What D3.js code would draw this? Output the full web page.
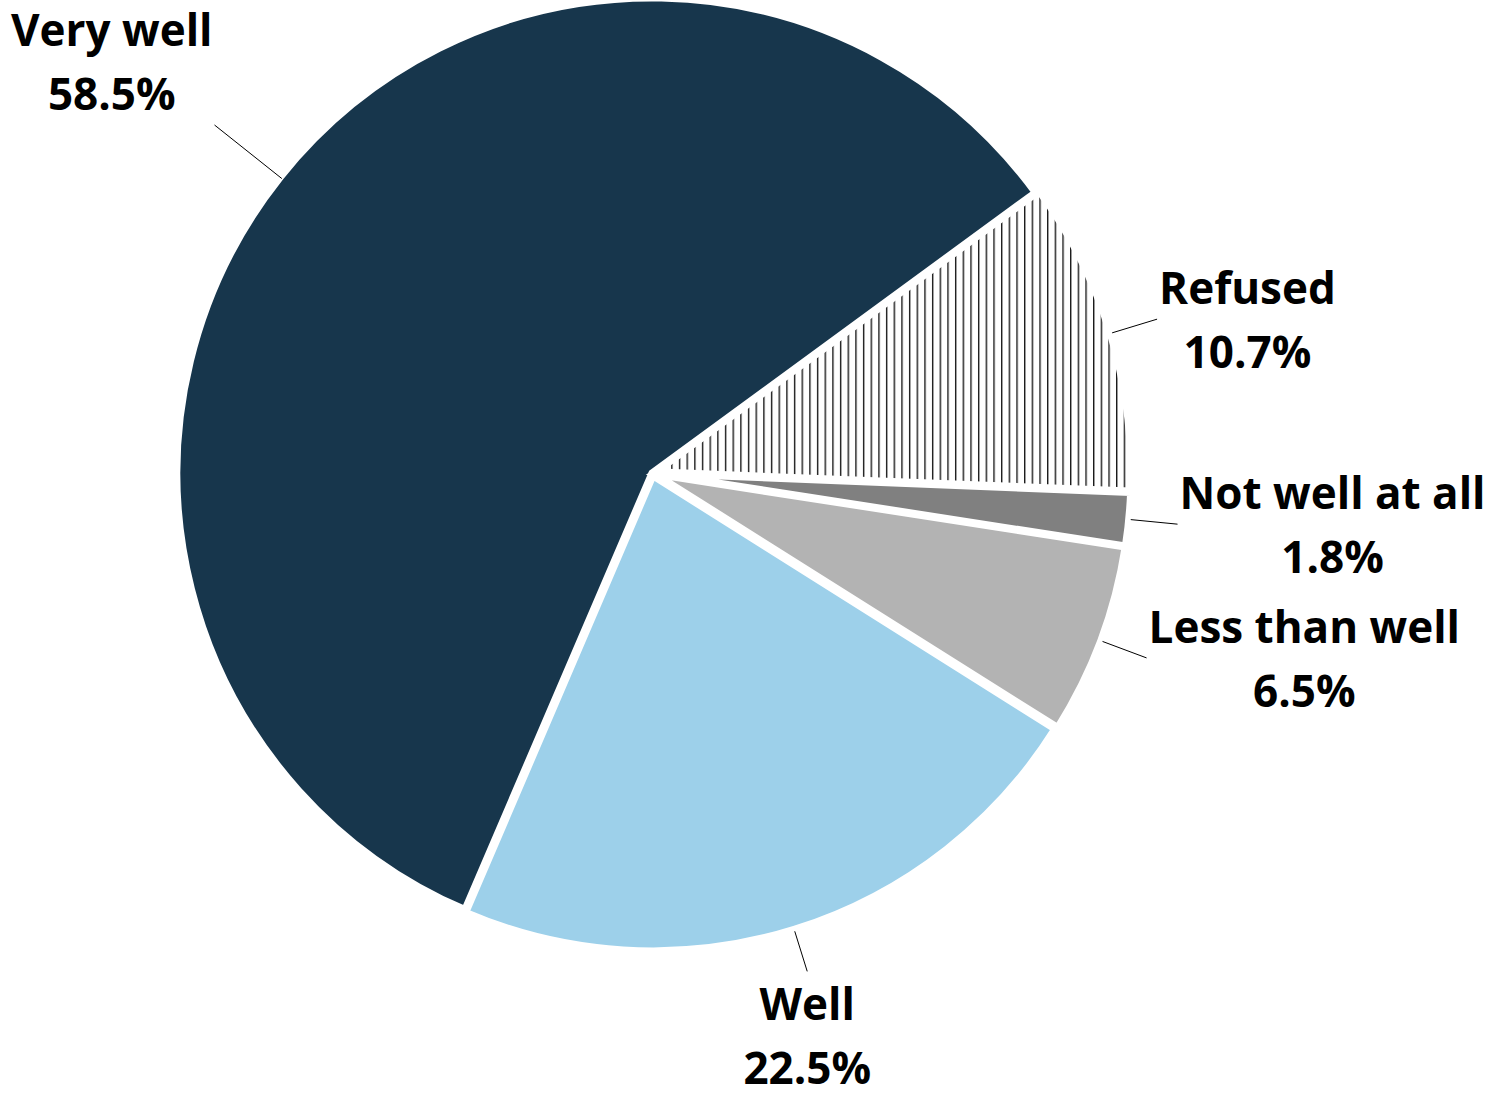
<!DOCTYPE html>
<html>
<head>
<meta charset="utf-8">
<script src="https://cdn.jsdelivr.net/npm/d3@7"></script>
<style>
  html, body { margin: 0; padding: 0; background: #fff; }
  svg text { font-family: "Open Sans", "DejaVu Sans", sans-serif; font-weight: bold; }
</style>
</head>
<body>
<div id="chart"></div>
<script>
// answers, drawn counter clockwise from the top right
var categories = ["Very well", "Well", "Less than well", "Not well at all", "Refused"];
var percents = [58.5, 22.5, 6.5, 1.8, 10.7];
var percentLabels = ["58.5%", "22.5%", "6.5%", "1.8%", "10.7%"];
var sliceColors = ["#17364C", "#9DD0EA", "#B3B3B3", "#808080", "url(#hatch)"];

// layout tweaks (px): how far a slice is pulled out, how long its leader is
var explode = [0, 3, 4, 4, 4];
var leaderOut = [84, 47, 53, 53, 53];

var width = 1486, height = 1095;
var cx = 652, cy = 473, radius = 475;
var deg = Math.PI / 180;

var svg = d3.select("#chart").append("svg")
  .attr("width", width)
  .attr("height", height);

// vertical line pattern for the refused slice
var pattern = svg.append("defs").append("pattern")
  .attr("id", "hatch")
  .attr("patternUnits", "userSpaceOnUse")
  .attr("width", 7.67)
  .attr("height", 10);
pattern.append("rect").attr("width", 7.67).attr("height", 10).attr("fill", "#fff");
pattern.append("rect").attr("x", 0).attr("width", 1.4).attr("height", 10).attr("fill", "#1a1a1a");

// first slice starts at 53.8 deg and goes round the other way
var pie = d3.pie()
  .sort(null)
  .value(function(d) { return d; })
  .startAngle(413.8 * deg)
  .endAngle(53.8 * deg);

var arc = d3.arc().innerRadius(0).outerRadius(radius);
var arcs = pie(percents);

var g = svg.append("g").attr("transform", "translate(" + cx + "," + cy + ")");

function midAngle(d) { return (d.startAngle + d.endAngle) / 2; }
function polar(a, r) { return [r * Math.sin(a), -r * Math.cos(a)]; }

// slices
g.selectAll("path.slice")
  .data(arcs)
  .enter()
  .append("path")
  .attr("class", "slice")
  .attr("transform", function(d, i) {
    var p = polar(midAngle(d), explode[i]);
    return "translate(" + p[0] + "," + p[1] + ")";
  })
  .attr("d", arc)
  .attr("fill", function(d, i) { return sliceColors[i]; })
  .attr("stroke", "#fff")
  .attr("stroke-width", 7)
  .attr("stroke-linejoin", "miter");

// leader lines, straight out from the middle of each slice
g.selectAll("line.leader")
  .data(arcs)
  .enter()
  .append("line")
  .attr("class", "leader")
  .each(function(d, i) {
    var a = midAngle(d);
    var p0 = polar(a, radius + explode[i] + (i === 0 ? -2 : 2));
    var p1 = polar(a, radius + leaderOut[i]);
    d3.select(this)
      .attr("x1", p0[0]).attr("y1", p0[1])
      .attr("x2", p1[0]).attr("y2", p1[1]);
  })
  .attr("stroke", "#000")
  .attr("stroke-width", 1);

// labels, two lines each, hung off the end of the leader
categories.forEach(function(name, i) {
  var d = arcs[i];
  var a = midAngle(d);
  var end = polar(a, radius + leaderOut[i]);

  var label = g.append("g");
  var txt = label.append("text")
    .attr("text-anchor", "middle")
    .attr("font-size", 44)
    .attr("fill", "#000");
  txt.append("tspan").attr("x", 0).attr("y", 0).text(name);
  txt.append("tspan").attr("x", 0).attr("y", 64).text(percentLabels[i]);

  var box = txt.node().getBBox();
  var sx = Math.sin(a), sy = -Math.cos(a);
  var gap = 2;
  var tx, ty;
  // horizontal: attach left or right edge, or centre
  if (sx > 0.38) tx = end[0] + gap - box.x;
  else if (sx < -0.38) tx = end[0] - gap - (box.x + box.width);
  else tx = end[0] - (box.x + box.width / 2);
  // vertical: attach top or bottom edge, or centre
  if (sy > 0.38) ty = end[1] + gap - box.y;
  else if (sy < -0.38) ty = end[1] - gap - (box.y + box.height);
  else ty = end[1] - (box.y + box.height / 2);

  label.attr("transform", "translate(" + tx + "," + ty + ")");
});
</script>
</body>
</html>
